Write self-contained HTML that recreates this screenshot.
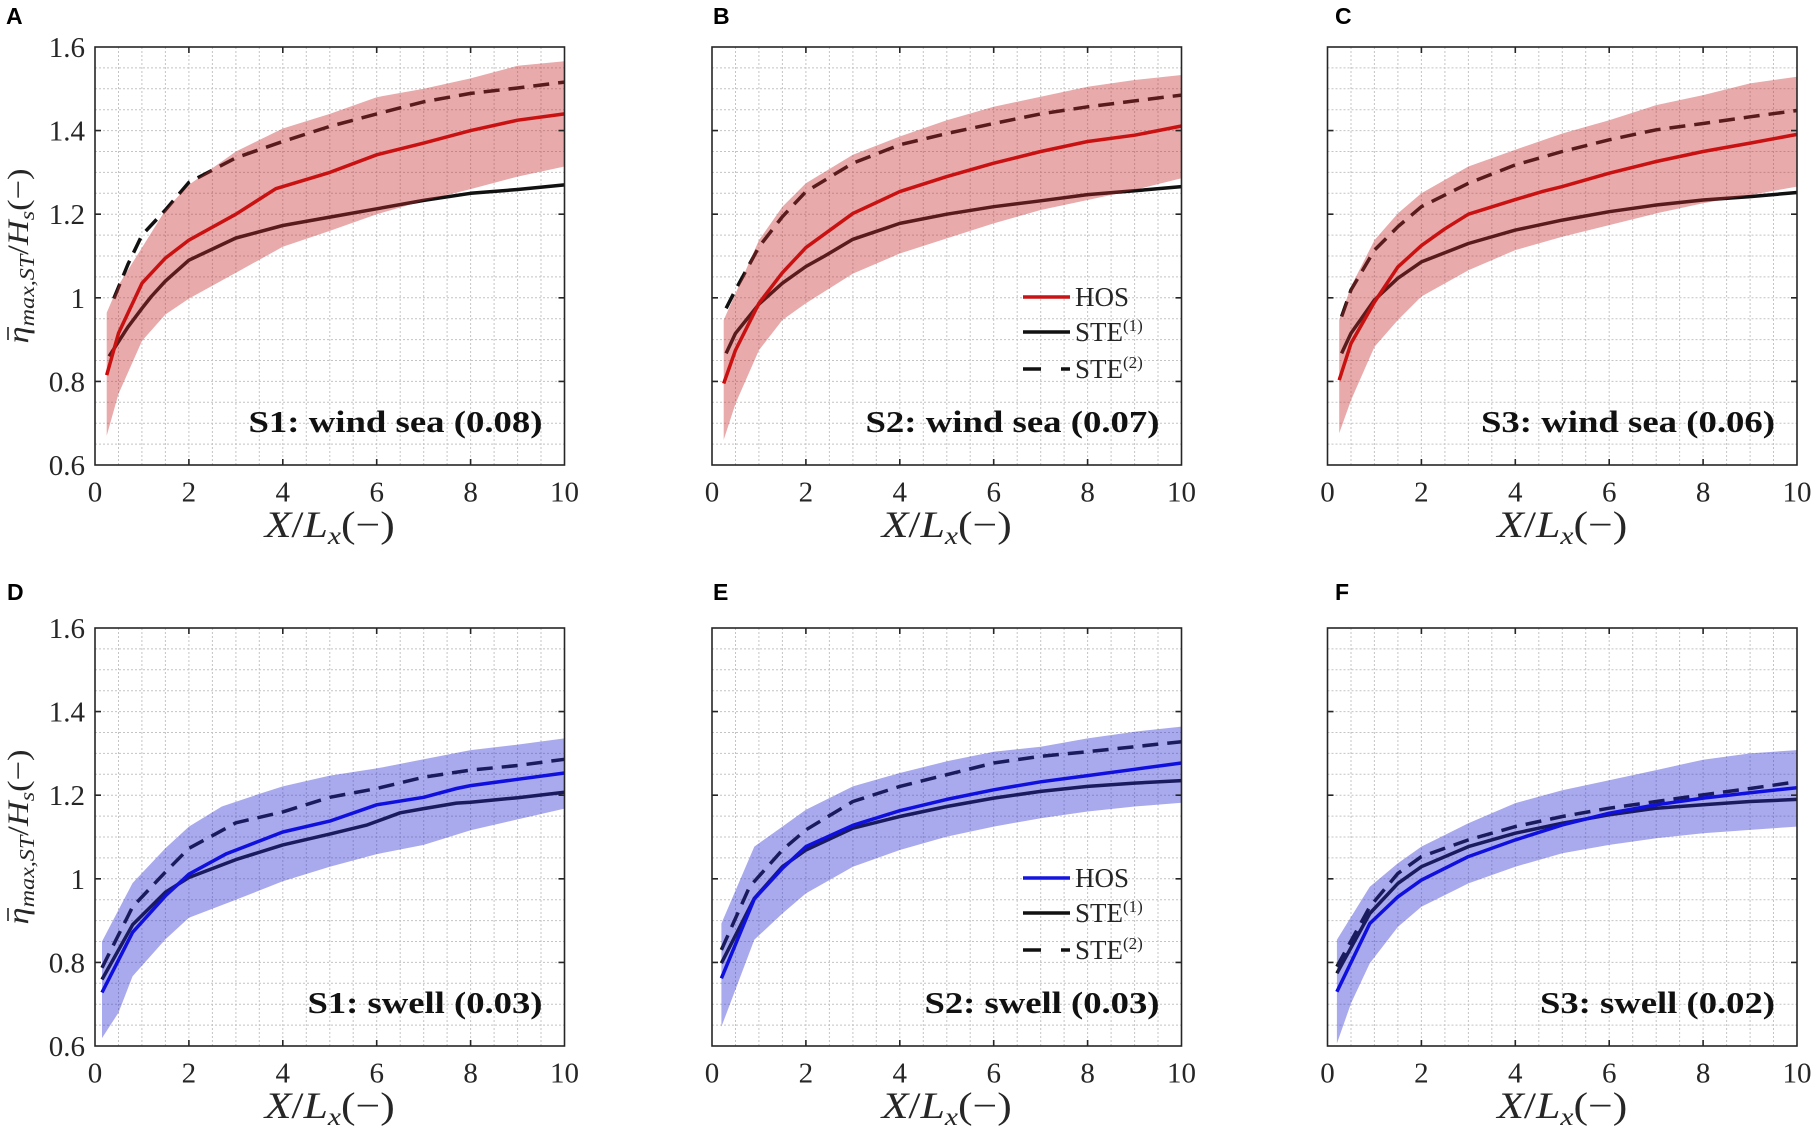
<!DOCTYPE html>
<html><head><meta charset="utf-8"><style>
html,body{margin:0;padding:0;background:#fff;}
svg{display:block;}
.tk{font-family:"Liberation Serif",serif;font-size:29px;fill:#262626;}
.lab{font-family:"Liberation Serif",serif;fill:#262626;}
.pl{font-family:"Liberation Serif",serif;font-weight:bold;font-size:31px;fill:#111;}
.lg{font-family:"Liberation Serif",serif;font-size:27px;fill:#262626;}
.let{font-family:"Liberation Sans",sans-serif;font-weight:bold;font-size:23px;fill:#000;}
</style></head><body>
<svg width="1819" height="1132" viewBox="0 0 1819 1132" xmlns="http://www.w3.org/2000/svg">
<defs>
<g id="grid">
<path fill="none" stroke="#c4c4c4" stroke-width="1" stroke-dasharray="2 2" d="M23.5 0V418M46.9 0V418M70.4 0V418M93.9 0V418M117.4 0V418M140.9 0V418M164.3 0V418M187.8 0V418M211.3 0V418M234.8 0V418M258.2 0V418M281.7 0V418M305.2 0V418M328.7 0V418M352.1 0V418M375.6 0V418M399.1 0V418M422.6 0V418M446 0V418M0 20.9H469.5M0 41.8H469.5M0 62.7H469.5M0 83.6H469.5M0 104.5H469.5M0 125.4H469.5M0 146.3H469.5M0 167.2H469.5M0 188.1H469.5M0 209H469.5M0 229.9H469.5M0 250.8H469.5M0 271.7H469.5M0 292.6H469.5M0 313.5H469.5M0 334.4H469.5M0 355.3H469.5M0 376.2H469.5M0 397.1H469.5"/>
</g>
<g id="frame">
<rect x="0" y="0" width="469.5" height="418" fill="none" stroke="#262626" stroke-width="1.6"/>
<path fill="none" stroke="#262626" stroke-width="1.6" d="M93.9 418v-6M187.8 418v-6M281.7 418v-6M375.6 418v-6M93.9 0v6M187.8 0v6M281.7 0v6M375.6 0v6M0 334.4h6M0 250.8h6M0 167.2h6M0 83.6h6M469.5 334.4h-6M469.5 250.8h-6M469.5 167.2h-6M469.5 83.6h-6"/>
</g>
</defs>

<!-- Panel letters -->
<g font-family="Liberation Sans, sans-serif">
<text class="let" x="6" y="24">A</text>
<text class="let" x="713" y="24">B</text>
<text class="let" x="1335" y="24">C</text>
<text class="let" x="7" y="600">D</text>
<text class="let" x="713" y="600">E</text>
<text class="let" x="1335" y="600">F</text>
</g>

<!-- ============ Panel A ============ -->
<g transform="translate(95,47)">
<use href="#grid"/>
<g fill="none" stroke-width="3.5" stroke-linejoin="round" stroke-linecap="butt">
<path stroke="#111" d="M14.1 309.3 L32.9 280.1 L47 261.3 L56.3 249.5 L70.4 234.1 L93.9 213.2 L140.9 191 L187.8 178.5 L234.8 170.1 L281.7 161.8 L328.7 153.4 L375.6 146.3 L422.6 142.5 L469.5 137.9"/>
<path stroke="#111" stroke-dasharray="16 9" d="M18.8 251.6 L32.9 217.4 L47 188.1 L70.4 163 L93.9 135.4 L140.9 110.8 L187.8 94.5 L234.8 79.4 L281.7 66.9 L328.7 54.8 L375.6 46.4 L422.6 41 L469.5 35.1"/>
<path stroke="#cc0000" d="M11.7 328.1 L23.5 286.3 L47 236.2 L70.4 211.1 L93.9 193.1 L140.9 167.2 L180.8 141.7 L234.8 125.4 L281.7 107.8 L328.7 96.1 L375.6 83.6 L422.6 73.2 L469.5 66.9"/>
</g>
<path fill="#c62a2a" fill-opacity="0.4" d="M11.7 265.8 L23.5 238.3 L47 200.6 L70.4 163 L93.9 137.9 L140.9 104.5 L187.8 81.5 L234.8 66.9 L281.7 50.2 L328.7 41.8 L375.6 31.4 L422.6 18.8 L469.5 14.2 L469.5 119.5 L422.6 129.6 L375.6 142.1 L328.7 153.8 L281.7 167.2 L234.8 183.9 L187.8 199.8 L140.9 225.7 L93.9 251.6 L70.4 267.5 L47 293.9 L23.5 346.9 L11.7 388.7 Z"/>
<use href="#frame"/>
<g class="tk" font-family="Liberation Serif, serif" font-size="29" text-anchor="middle">
<text x="0" y="454.7">0</text><text x="93.9" y="454.7">2</text><text x="187.8" y="454.7">4</text><text x="281.7" y="454.7">6</text><text x="375.6" y="454.7">8</text><text x="469.5" y="454.7">10</text>
</g>
<g class="tk" font-family="Liberation Serif, serif" font-size="29" text-anchor="end">
<text x="-10" y="10">1.6</text><text x="-10" y="93.6">1.4</text><text x="-10" y="177.2">1.2</text><text x="-10" y="260.8">1</text><text x="-10" y="344.4">0.8</text><text x="-10" y="428">0.6</text>
</g>
<text class="pl" font-family="Liberation Serif, serif" x="447.5" y="385" text-anchor="end" textLength="294" lengthAdjust="spacingAndGlyphs">S1: wind sea (0.08)</text>
<text class="lab" font-family="Liberation Serif, serif" x="234.75" y="490" font-size="37" text-anchor="middle" textLength="130" lengthAdjust="spacingAndGlyphs"><tspan font-style="italic">X</tspan>/<tspan font-style="italic">L</tspan><tspan font-style="italic" font-size="25" dy="7">x</tspan><tspan dy="-7">(−)</tspan></text>
<g transform="translate(-67,209) rotate(-90)">
<text class="lab" font-family="Liberation Serif, serif" x="0" y="0" font-size="30" text-anchor="middle" textLength="175" lengthAdjust="spacingAndGlyphs"><tspan font-style="italic">η</tspan><tspan font-style="italic" font-size="21" dy="6">max,ST</tspan><tspan dy="-6">/</tspan><tspan font-style="italic">H</tspan><tspan font-style="italic" font-size="21" dy="6">s</tspan><tspan dy="-6">(−)</tspan></text>
<path d="M-84 -20H-71" stroke="#262626" stroke-width="1.6"/>
</g>
</g>

<!-- ============ Panel B ============ -->
<g transform="translate(712,47)">
<use href="#grid"/>
<g fill="none" stroke-width="3.5" stroke-linejoin="round">
<path stroke="#111" d="M14.1 306.4 L23.5 286.3 L47 257.1 L70.4 236.2 L93.9 219.5 L112.7 209 L140.9 192.3 L187.8 176.4 L234.8 167.2 L281.7 159.7 L328.7 153.8 L375.6 147.6 L422.6 143.8 L469.5 139.6"/>
<path stroke="#111" stroke-dasharray="16 9" d="M14.1 261.3 L23.5 242.9 L47 199.8 L70.4 169.7 L93.9 144.6 L140.9 116.2 L187.8 97.8 L234.8 86.5 L281.7 76.5 L328.7 66.9 L375.6 59.8 L422.6 53.9 L469.5 48.1"/>
<path stroke="#cc0000" d="M11.7 336.5 L23.5 303.1 L47 256.2 L70.4 225.7 L93.9 200.6 L140.9 166.4 L187.8 144.6 L234.8 129.6 L281.7 116.2 L328.7 104.5 L375.6 94.5 L422.6 88.2 L469.5 79"/>
</g>
<path fill="#c62a2a" fill-opacity="0.4" d="M11.7 273 L23.5 246.6 L47 193.1 L70.4 159.7 L93.9 136.3 L140.9 107.8 L187.8 89.5 L234.8 73.2 L281.7 59.8 L328.7 49.7 L375.6 39.7 L422.6 33 L469.5 28 L469.5 131.3 L422.6 143 L375.6 153 L328.7 163 L281.7 176.4 L234.8 191.4 L187.8 206.5 L140.9 226.6 L93.9 256.2 L70.4 273 L47 303.1 L23.5 356.6 L11.7 392.9 Z"/>
<use href="#frame"/>
<g class="tk" font-family="Liberation Serif, serif" font-size="29" text-anchor="middle">
<text x="0" y="454.7">0</text><text x="93.9" y="454.7">2</text><text x="187.8" y="454.7">4</text><text x="281.7" y="454.7">6</text><text x="375.6" y="454.7">8</text><text x="469.5" y="454.7">10</text>
</g>
<path stroke="#c81414" stroke-width="3.5" d="M311 250H358"/>
<path stroke="#111" stroke-width="3.5" d="M311 285H358"/>
<path stroke="#111" stroke-width="3.5" d="M311 322H329M349 322H358"/>
<g class="lg" font-family="Liberation Serif, serif" font-size="27">
<text x="363" y="259">HOS</text>
<text x="363" y="294">STE<tspan font-size="17" dy="-10">(1)</tspan></text>
<text x="363" y="331">STE<tspan font-size="17" dy="-10">(2)</tspan></text>
</g>
<text class="pl" font-family="Liberation Serif, serif" x="447.5" y="385" text-anchor="end" textLength="294" lengthAdjust="spacingAndGlyphs">S2: wind sea (0.07)</text>
<text class="lab" font-family="Liberation Serif, serif" x="234.75" y="490" font-size="37" text-anchor="middle" textLength="130" lengthAdjust="spacingAndGlyphs"><tspan font-style="italic">X</tspan>/<tspan font-style="italic">L</tspan><tspan font-style="italic" font-size="25" dy="7">x</tspan><tspan dy="-7">(−)</tspan></text>
</g>

<!-- ============ Panel C ============ -->
<g transform="translate(1327.5,47)">
<use href="#grid"/>
<g fill="none" stroke-width="3.5" stroke-linejoin="round">
<path stroke="#111" d="M14.1 306.4 L23.5 286.3 L47 252.9 L70.4 231.2 L93.9 214.9 L140.9 196.5 L187.8 183.1 L234.8 173.1 L281.7 164.7 L328.7 158 L375.6 153 L422.6 149.6 L469.5 145.5"/>
<path stroke="#111" stroke-dasharray="16 9" d="M14.1 269.6 L23.5 242.9 L47 203.1 L70.4 179.7 L93.9 159.7 L140.9 136.3 L187.8 117.9 L234.8 104.5 L281.7 92.8 L328.7 82.8 L375.6 76.5 L422.6 69.8 L469.5 63.5"/>
<path stroke="#cc0000" d="M11.7 333.1 L23.5 296.4 L47 255 L70.4 219.9 L93.9 198.6 L117.4 181.8 L140.9 167.2 L187.8 152.6 L216 144.2 L234.8 139.6 L281.7 126.2 L328.7 114.5 L375.6 104.5 L422.6 96.1 L469.5 87.4"/>
</g>
<path fill="#c62a2a" fill-opacity="0.4" d="M11.7 273 L23.5 239.5 L47 193.1 L70.4 166.4 L93.9 146.3 L140.9 119.5 L187.8 102.8 L234.8 86.5 L281.7 73.2 L328.7 58.1 L375.6 48.1 L422.6 36.4 L469.5 29.7 L469.5 139.6 L422.6 148 L375.6 156.3 L328.7 166.4 L281.7 178.1 L234.8 189.8 L187.8 203.1 L140.9 223.2 L93.9 249.5 L70.4 273 L47 299.7 L23.5 353.2 L11.7 386.2 Z"/>
<use href="#frame"/>
<g class="tk" font-family="Liberation Serif, serif" font-size="29" text-anchor="middle">
<text x="0" y="454.7">0</text><text x="93.9" y="454.7">2</text><text x="187.8" y="454.7">4</text><text x="281.7" y="454.7">6</text><text x="375.6" y="454.7">8</text><text x="469.5" y="454.7">10</text>
</g>
<text class="pl" font-family="Liberation Serif, serif" x="447.5" y="385" text-anchor="end" textLength="294" lengthAdjust="spacingAndGlyphs">S3: wind sea (0.06)</text>
<text class="lab" font-family="Liberation Serif, serif" x="234.75" y="490" font-size="37" text-anchor="middle" textLength="130" lengthAdjust="spacingAndGlyphs"><tspan font-style="italic">X</tspan>/<tspan font-style="italic">L</tspan><tspan font-style="italic" font-size="25" dy="7">x</tspan><tspan dy="-7">(−)</tspan></text>
</g>

<!-- ============ Panel D ============ -->
<g transform="translate(95,628)">
<use href="#grid"/>
<g fill="none" stroke-width="3.5" stroke-linejoin="round">
<path stroke="#111" d="M7 351.5 L37.6 296.8 L70.4 264.2 L93.9 249.5 L140.9 231.6 L187.8 216.9 L234.8 206.1 L272.3 196.9 L305.2 184.8 L328.7 180.6 L361.5 175.1 L375.6 174.3 L422.6 169.7 L469.5 164.3"/>
<path stroke="#111" stroke-dasharray="16 9" d="M7 339.8 L37.6 278.8 L70.4 244.1 L93.9 220.3 L117.4 207.7 L140.9 194.8 L187.8 183.9 L234.8 169.3 L281.7 160.5 L328.7 149.2 L375.6 142.1 L422.6 137.5 L469.5 131.3"/>
<path stroke="#0000e6" d="M7 364.5 L37.6 304.3 L70.4 267.9 L93.9 246.2 L131.5 225.7 L187.8 204 L234.8 193.1 L281.7 176.8 L328.7 169.3 L361.5 160.5 L375.6 157.6 L422.6 151.3 L469.5 145"/>
</g>
<path fill="#2828d2" fill-opacity="0.4" d="M7 313.5 L37.6 255 L70.4 220.3 L93.9 198.6 L126.8 178.5 L164.3 165.9 L187.8 158.4 L234.8 147.6 L281.7 140.4 L328.7 131.3 L375.6 122.1 L422.6 116.6 L469.5 110.4 L469.5 180.6 L422.6 191.4 L375.6 202.3 L328.7 216.9 L281.7 226.1 L234.8 238.7 L187.8 253.3 L140.9 271.7 L93.9 289.7 L70.4 311.4 L37.6 348.2 L23.5 384.6 L7 410.1 Z"/>
<use href="#frame"/>
<g class="tk" font-family="Liberation Serif, serif" font-size="29" text-anchor="middle">
<text x="0" y="454.7">0</text><text x="93.9" y="454.7">2</text><text x="187.8" y="454.7">4</text><text x="281.7" y="454.7">6</text><text x="375.6" y="454.7">8</text><text x="469.5" y="454.7">10</text>
</g>
<g class="tk" font-family="Liberation Serif, serif" font-size="29" text-anchor="end">
<text x="-10" y="10">1.6</text><text x="-10" y="93.6">1.4</text><text x="-10" y="177.2">1.2</text><text x="-10" y="260.8">1</text><text x="-10" y="344.4">0.8</text><text x="-10" y="428">0.6</text>
</g>
<text class="pl" font-family="Liberation Serif, serif" x="447.5" y="385" text-anchor="end" textLength="235" lengthAdjust="spacingAndGlyphs">S1: swell (0.03)</text>
<text class="lab" font-family="Liberation Serif, serif" x="234.75" y="490" font-size="37" text-anchor="middle" textLength="130" lengthAdjust="spacingAndGlyphs"><tspan font-style="italic">X</tspan>/<tspan font-style="italic">L</tspan><tspan font-style="italic" font-size="25" dy="7">x</tspan><tspan dy="-7">(−)</tspan></text>
<g transform="translate(-67,209) rotate(-90)">
<text class="lab" font-family="Liberation Serif, serif" x="0" y="0" font-size="30" text-anchor="middle" textLength="175" lengthAdjust="spacingAndGlyphs"><tspan font-style="italic">η</tspan><tspan font-style="italic" font-size="21" dy="6">max,ST</tspan><tspan dy="-6">/</tspan><tspan font-style="italic">H</tspan><tspan font-style="italic" font-size="21" dy="6">s</tspan><tspan dy="-6">(−)</tspan></text>
<path d="M-84 -20H-71" stroke="#262626" stroke-width="1.6"/>
</g>
</g>

<!-- ============ Panel E ============ -->
<g transform="translate(712,628)">
<use href="#grid"/>
<g fill="none" stroke-width="3.5" stroke-linejoin="round">
<path stroke="#111" d="M9.4 335.2 L42.3 270.4 L70.4 238.7 L93.9 222 L140.9 200.2 L187.8 188.5 L234.8 178.5 L281.7 170.1 L328.7 163.4 L375.6 158.4 L422.6 155.1 L469.5 152.6"/>
<path stroke="#111" stroke-dasharray="16 9" d="M9.4 321.9 L37.6 258.7 L70.4 222 L93.9 201.9 L140.9 173.5 L187.8 158.4 L234.8 146.7 L281.7 135 L328.7 128.3 L375.6 123.7 L422.6 118.7 L469.5 113.7"/>
<path stroke="#0000e6" d="M9.4 350.3 L42.3 270.9 L70.4 240.4 L93.9 218.6 L140.9 197.3 L187.8 182.7 L234.8 171.4 L281.7 161.8 L328.7 153.8 L375.6 147.6 L422.6 141.3 L469.5 135"/>
</g>
<path fill="#2828d2" fill-opacity="0.4" d="M9.4 295.5 L42.3 218.6 L70.4 198.6 L93.9 181.8 L140.9 158.4 L187.8 145 L234.8 133.3 L281.7 123.7 L328.7 118.7 L375.6 110.4 L422.6 103.7 L469.5 98.6 L469.5 174.7 L422.6 178.5 L375.6 183.5 L328.7 190.2 L281.7 198.6 L234.8 208.6 L187.8 222 L140.9 238.7 L93.9 265.4 L70.4 285.5 L42.3 311.8 L9.4 398.8 Z"/>
<use href="#frame"/>
<g class="tk" font-family="Liberation Serif, serif" font-size="29" text-anchor="middle">
<text x="0" y="454.7">0</text><text x="93.9" y="454.7">2</text><text x="187.8" y="454.7">4</text><text x="281.7" y="454.7">6</text><text x="375.6" y="454.7">8</text><text x="469.5" y="454.7">10</text>
</g>
<path stroke="#1515e0" stroke-width="3.5" d="M311 250H358"/>
<path stroke="#111" stroke-width="3.5" d="M311 285H358"/>
<path stroke="#111" stroke-width="3.5" d="M311 322H329M349 322H358"/>
<g class="lg" font-family="Liberation Serif, serif" font-size="27">
<text x="363" y="259">HOS</text>
<text x="363" y="294">STE<tspan font-size="17" dy="-10">(1)</tspan></text>
<text x="363" y="331">STE<tspan font-size="17" dy="-10">(2)</tspan></text>
</g>
<text class="pl" font-family="Liberation Serif, serif" x="447.5" y="385" text-anchor="end" textLength="235" lengthAdjust="spacingAndGlyphs">S2: swell (0.03)</text>
<text class="lab" font-family="Liberation Serif, serif" x="234.75" y="490" font-size="37" text-anchor="middle" textLength="130" lengthAdjust="spacingAndGlyphs"><tspan font-style="italic">X</tspan>/<tspan font-style="italic">L</tspan><tspan font-style="italic" font-size="25" dy="7">x</tspan><tspan dy="-7">(−)</tspan></text>
</g>

<!-- ============ Panel F ============ -->
<g transform="translate(1327.5,628)">
<use href="#grid"/>
<g fill="none" stroke-width="3.5" stroke-linejoin="round">
<path stroke="#111" d="M9.4 345.3 L42.3 285.5 L70.4 255.4 L93.9 238.7 L140.9 218.6 L187.8 205.2 L234.8 195.2 L281.7 186.8 L328.7 180.2 L375.6 176.8 L422.6 173.5 L469.5 171.4"/>
<path stroke="#111" stroke-dasharray="16 9" d="M9.4 338.6 L42.3 278.8 L70.4 245.4 L93.9 228.6 L140.9 211.9 L187.8 198.6 L234.8 188.5 L281.7 180.2 L328.7 173.5 L375.6 166.8 L422.6 160.5 L469.5 153.8"/>
<path stroke="#0000e6" d="M9.4 363.7 L42.3 295.5 L70.4 268.8 L93.9 252.1 L140.9 228.6 L187.8 211.9 L234.8 196.9 L281.7 185.2 L328.7 176.8 L375.6 170.1 L422.6 164.7 L469.5 159.7"/>
</g>
<path fill="#2828d2" fill-opacity="0.4" d="M9.4 311.8 L42.3 258.7 L70.4 235.3 L93.9 218.6 L140.9 195.2 L187.8 175.1 L234.8 162.2 L281.7 152.2 L328.7 142.1 L375.6 131.7 L422.6 125.4 L469.5 122.1 L469.5 198.6 L422.6 201.9 L375.6 205.2 L328.7 210.3 L281.7 216.9 L234.8 225.3 L187.8 238.7 L140.9 255.4 L93.9 278.8 L70.4 298.9 L42.3 335.2 L23.5 375.4 L9.4 415.5 Z"/>
<use href="#frame"/>
<g class="tk" font-family="Liberation Serif, serif" font-size="29" text-anchor="middle">
<text x="0" y="454.7">0</text><text x="93.9" y="454.7">2</text><text x="187.8" y="454.7">4</text><text x="281.7" y="454.7">6</text><text x="375.6" y="454.7">8</text><text x="469.5" y="454.7">10</text>
</g>
<text class="pl" font-family="Liberation Serif, serif" x="447.5" y="385" text-anchor="end" textLength="235" lengthAdjust="spacingAndGlyphs">S3: swell (0.02)</text>
<text class="lab" font-family="Liberation Serif, serif" x="234.75" y="490" font-size="37" text-anchor="middle" textLength="130" lengthAdjust="spacingAndGlyphs"><tspan font-style="italic">X</tspan>/<tspan font-style="italic">L</tspan><tspan font-style="italic" font-size="25" dy="7">x</tspan><tspan dy="-7">(−)</tspan></text>
</g>
</svg>
</body></html>
